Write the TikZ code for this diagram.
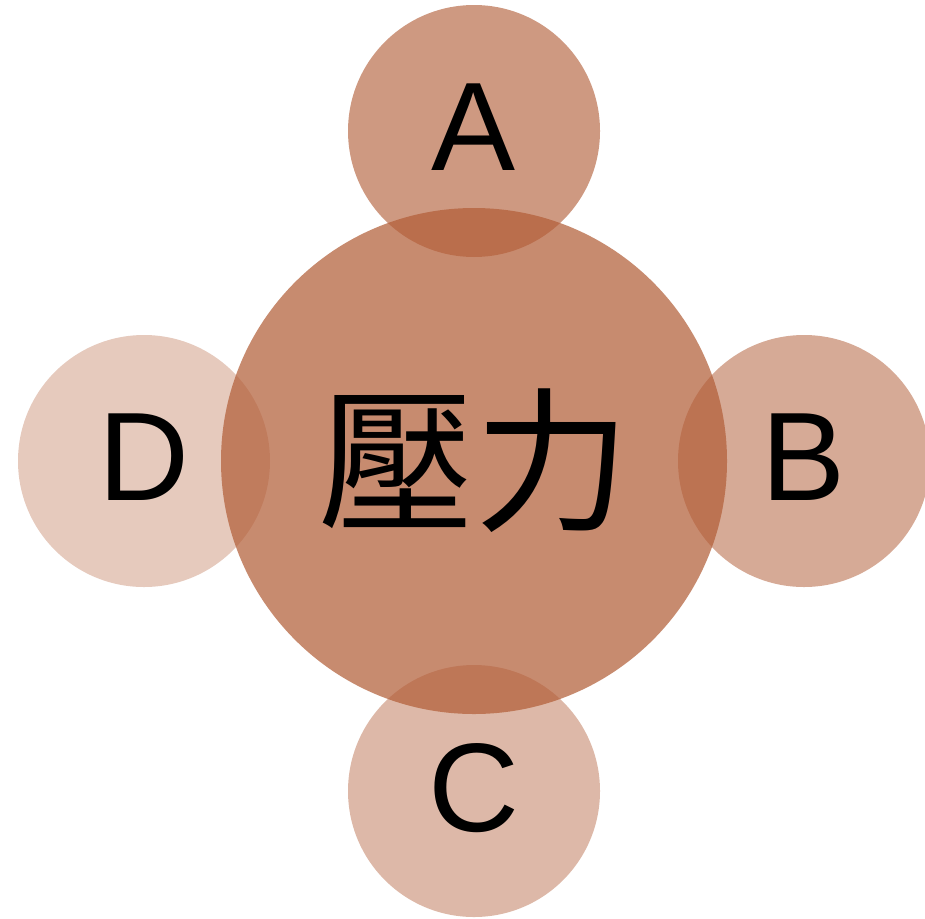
\documentclass[tikz,border=0pt]{standalone}
\usepackage{fontspec}
\setmainfont{Liberation Sans}
\newfontfamily\cjkfont{Noto Sans CJK TC}
\definecolor{clay}{RGB}{178,94,56}
\tikzstyle{petal}=[circle, fill=clay, text opacity=1, minimum size=252pt, inner sep=0pt, font=\fontsize{126}{130}\selectfont]
\tikzstyle{hub}=[circle, fill=clay, fill opacity=0.72, text opacity=1, minimum size=506pt, inner sep=0pt, font=\cjkfont\fontsize{156}{160}\selectfont]

\begin{document}
\begin{tikzpicture}[x=1pt,y=-1pt]
  \useasboundingbox (0,0) rectangle (925,918);
  % satellites
  \node[petal, fill opacity=0.63] (a) at (474,131) {\raisebox{8pt}{A}};
  \node[petal, fill opacity=0.53] (b) at (804,461) {\raisebox{8pt}{B}};
  \node[petal, fill opacity=0.44] (c) at (474,791) {\raisebox{8pt}{C}};
  \node[petal, fill opacity=0.33] (d) at (144,461) {\raisebox{8pt}{D}};
  % center
  \node[hub] (stress) at (474,461) {\raisebox{6pt}{壓力}};
\end{tikzpicture}
\end{document}
